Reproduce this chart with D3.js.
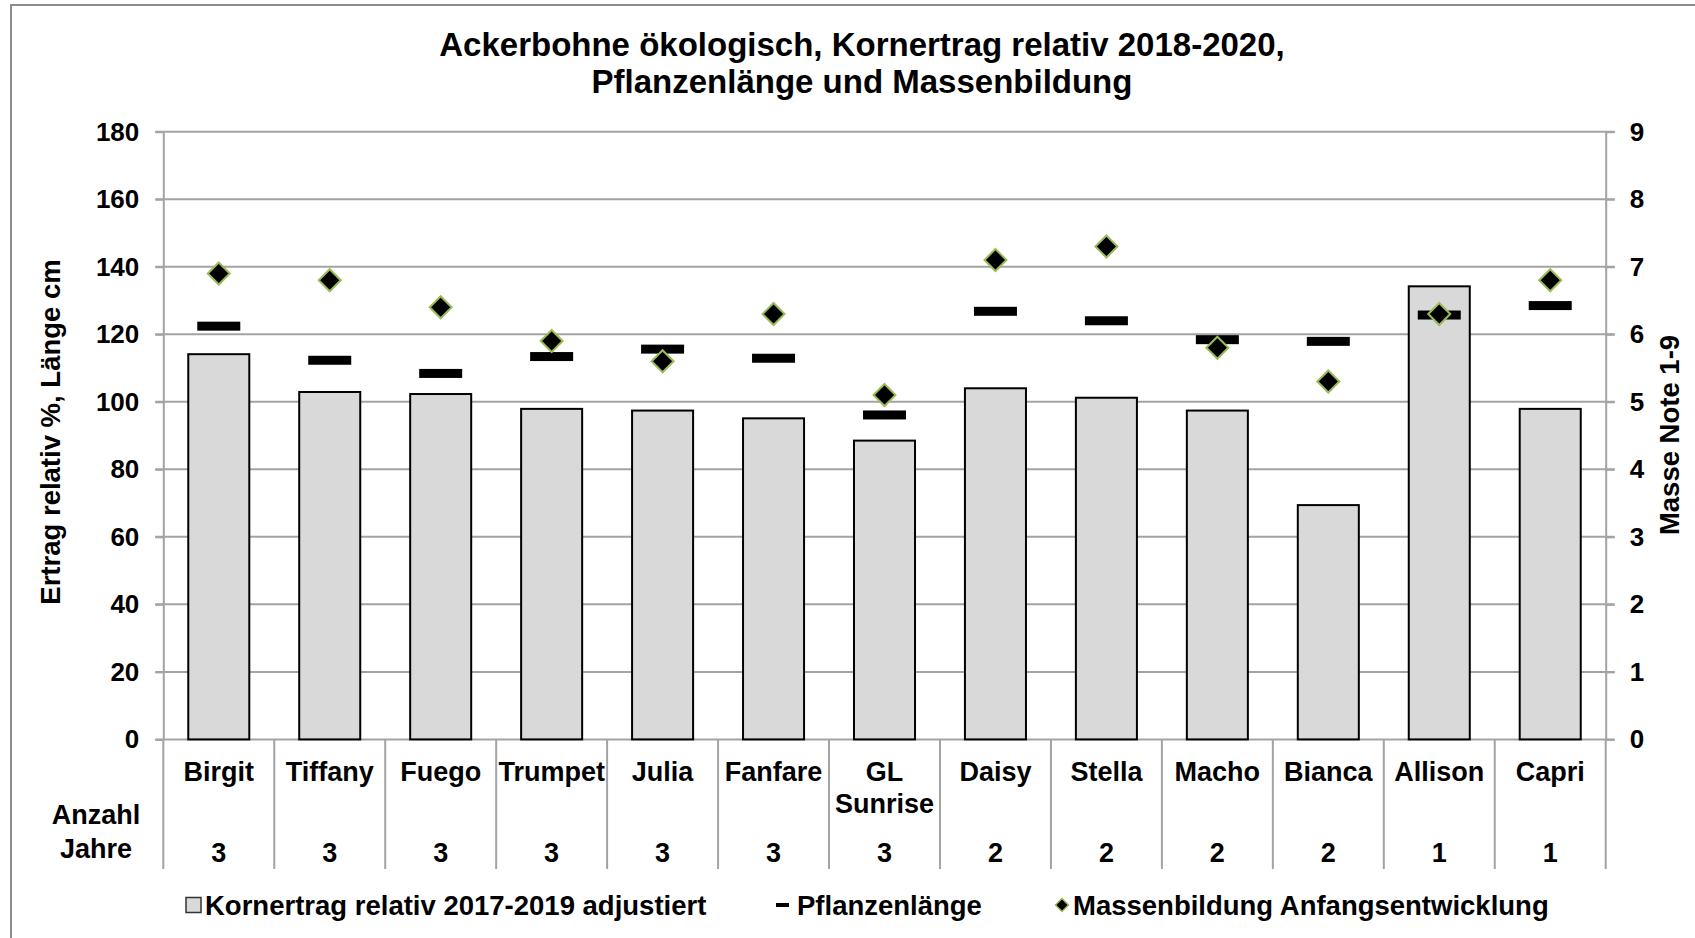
<!DOCTYPE html>
<html>
<head>
<meta charset="utf-8">
<script src="https://cdn.jsdelivr.net/npm/d3@7/dist/d3.min.js"></script>
<style>
  html, body { margin: 0; padding: 0; background: #fff; }
  svg { display: block; font-family: "Liberation Sans", Arial, sans-serif; font-weight: bold; }
</style>
</head>
<body>
<svg id="chart" width="1695" height="938"></svg>
<script>
// ---- data ----
const categories = ["Birgit", "Tiffany", "Fuego", "Trumpet", "Julia", "Fanfare", "GL Sunrise", "Daisy", "Stella", "Macho", "Bianca", "Allison", "Capri"];
const categoryLines = [["Birgit"], ["Tiffany"], ["Fuego"], ["Trumpet"], ["Julia"], ["Fanfare"], ["GL", "Sunrise"], ["Daisy"], ["Stella"], ["Macho"], ["Bianca"], ["Allison"], ["Capri"]];
const anzahlJahre = [3, 3, 3, 3, 3, 3, 3, 2, 2, 2, 2, 1, 1];
const kornertrag = [114.1, 102.9, 102.3, 97.9, 97.4, 95.1, 88.5, 104.0, 101.2, 97.4, 69.4, 134.2, 97.9];
const pflanzenlaenge = [122.4, 112.3, 108.4, 113.4, 115.6, 112.9, 96.1, 126.8, 124.0, 118.4, 117.9, 125.7, 128.5];
const massenbildung = [6.9, 6.8, 6.4, 5.9, 5.6, 6.3, 5.1, 7.1, 7.3, 5.8, 5.3, 6.3, 6.8];
const leftTicks = [0, 20, 40, 60, 80, 100, 120, 140, 160, 180];
const rightTicks = [0, 1, 2, 3, 4, 5, 6, 7, 8, 9];
const titleLines = ["Ackerbohne ökologisch, Kornertrag relativ 2018-2020,", "Pflanzenlänge und Massenbildung"];
const leftAxisTitle = "Ertrag relativ %, Länge cm";
const rightAxisTitle = "Masse Note 1-9";
const tableRowLabel = ["Anzahl", "Jahre"];
const legendLabels = ["Kornertrag relativ 2017-2019 adjustiert", "Pflanzenlänge", "Massenbildung Anfangsentwicklung"];

// ---- layout ----
const svg = d3.select("#chart");
const plotLeft = 163.3, plotRight = 1605.7, plotTop = 131.7, plotBottom = 739.4, tableBottom = 869;
const gridColor = "#a3a3a3";
const barFill = "#d9d9d9";
const diamondStroke = "#9bbb59";

const x = d3.scaleBand().domain(categories).range([plotLeft, plotRight]).padding(0);
const yL = d3.scaleLinear().domain([0, 180]).range([plotBottom, plotTop]);
const yR = d3.scaleLinear().domain([0, 9]).range([plotBottom, plotTop]);
const barW = x.bandwidth() * 0.55;

// outer border
svg.append("rect").attr("x", 11).attr("y", 5).attr("width", 1700).attr("height", 960)
  .attr("fill", "none").attr("stroke", "#8c8c8c").attr("stroke-width", 2);

// title
svg.append("g").selectAll("text").data(titleLines).join("text")
  .attr("x", 862).attr("y", (d, i) => 56 + i * 37)
  .attr("text-anchor", "middle").attr("font-size", 33).attr("fill", "#000")
  .text(d => d);

// gridlines
svg.append("g").selectAll("line").data(leftTicks).join("line")
  .attr("x1", plotLeft - 8).attr("x2", plotRight + 9)
  .attr("y1", d => yL(d)).attr("y2", d => yL(d))
  .attr("stroke", gridColor).attr("stroke-width", 2);

// left axis
const gLeft = svg.append("g").attr("transform", `translate(${plotLeft},0)`)
  .call(d3.axisLeft(yL).tickValues(leftTicks).tickSize(8).tickPadding(16).tickSizeOuter(0));
gLeft.select(".domain").attr("stroke", gridColor).attr("stroke-width", 2);
gLeft.selectAll(".tick line").attr("stroke", gridColor).attr("stroke-width", 2);
gLeft.selectAll(".tick text").attr("font-size", 26).attr("font-family", "Liberation Sans, Arial, sans-serif").attr("font-weight", "bold").attr("fill", "#000");

// right axis
const gRight = svg.append("g").attr("transform", `translate(${plotRight},0)`)
  .call(d3.axisRight(yR).tickValues(rightTicks).tickSize(9).tickPadding(15).tickSizeOuter(0));
gRight.select(".domain").attr("stroke", gridColor).attr("stroke-width", 2);
gRight.selectAll(".tick line").attr("stroke", gridColor).attr("stroke-width", 2);
gRight.selectAll(".tick text").attr("font-size", 26).attr("font-family", "Liberation Sans, Arial, sans-serif").attr("font-weight", "bold").attr("fill", "#000");

// table separators
const seps = categories.map(c => x(c)).concat([plotRight]);
svg.append("g").selectAll("line").data(seps).join("line")
  .attr("x1", d => d).attr("x2", d => d)
  .attr("y1", plotBottom).attr("y2", tableBottom)
  .attr("stroke", gridColor).attr("stroke-width", 2);

// bars
svg.append("g").selectAll("rect").data(categories).join("rect")
  .attr("x", (d) => x(d) + (x.bandwidth() - barW) / 2)
  .attr("y", (d, i) => yL(kornertrag[i]))
  .attr("width", barW)
  .attr("height", (d, i) => yL(0) - yL(kornertrag[i]))
  .attr("fill", barFill).attr("stroke", "#000").attr("stroke-width", 2);

// Pflanzenlänge dashes
svg.append("g").selectAll("rect").data(categories).join("rect")
  .attr("x", d => x(d) + x.bandwidth() / 2 - 21.5)
  .attr("y", (d, i) => yL(pflanzenlaenge[i]) - 4.5)
  .attr("width", 43).attr("height", 9).attr("fill", "#000");

// Massenbildung diamonds
const dia = (r) => `M0,${-r}L${r},0L0,${r}L${-r},0Z`;
svg.append("g").selectAll("path").data(categories).join("path")
  .attr("transform", (d, i) => `translate(${x(d) + x.bandwidth() / 2},${yR(massenbildung[i])})`)
  .attr("d", dia(11))
  .attr("fill", "#000").attr("stroke", diamondStroke).attr("stroke-width", 2);

// category labels
const catG = svg.append("g").selectAll("text").data(categories).join("text")
  .attr("x", d => x(d) + x.bandwidth() / 2)
  .attr("y", 781)
  .attr("text-anchor", "middle").attr("font-size", 27).attr("fill", "#000");
catG.each(function(d, i) {
  const t = d3.select(this);
  categoryLines[i].forEach((line, j) => {
    t.append("tspan").attr("x", x(d) + x.bandwidth() / 2).attr("dy", j === 0 ? 0 : 32).text(line);
  });
});

// Anzahl Jahre values
svg.append("g").selectAll("text").data(categories).join("text")
  .attr("x", d => x(d) + x.bandwidth() / 2)
  .attr("y", 862)
  .attr("text-anchor", "middle").attr("font-size", 27).attr("fill", "#000")
  .text((d, i) => anzahlJahre[i]);

svg.append("g").selectAll("text").data(tableRowLabel).join("text")
  .attr("x", 96).attr("y", (d, i) => 824 + i * 34)
  .attr("text-anchor", "middle").attr("font-size", 27).attr("fill", "#000")
  .text(d => d);

// axis titles
svg.append("text")
  .attr("transform", "translate(50,432) rotate(-90)")
  .attr("text-anchor", "middle").attr("dy", "0.35em")
  .attr("font-size", 27.5).attr("fill", "#000").text(leftAxisTitle);
svg.append("text")
  .attr("transform", "translate(1669,435) rotate(-90)")
  .attr("text-anchor", "middle").attr("dy", "0.35em")
  .attr("font-size", 27.5).attr("fill", "#000").text(rightAxisTitle);

// legend
const lg = svg.append("g");
const legY = 905;
lg.append("rect").attr("x", 186).attr("y", legY - 7.5).attr("width", 15).attr("height", 15)
  .attr("fill", barFill).attr("stroke", "#333").attr("stroke-width", 1.5);
lg.append("text").attr("x", 205).attr("y", legY).attr("dy", "0.35em").attr("font-size", 27.5).attr("fill", "#000").text(legendLabels[0]);
lg.append("rect").attr("x", 776).attr("y", legY - 2).attr("width", 13).attr("height", 4).attr("fill", "#000");
lg.append("text").attr("x", 797).attr("y", legY).attr("dy", "0.35em").attr("font-size", 27.5).attr("fill", "#000").text(legendLabels[1]);
lg.append("path").attr("transform", `translate(1062,${legY})`).attr("d", dia(6.5))
  .attr("fill", "#000").attr("stroke", diamondStroke).attr("stroke-width", 1.5);
lg.append("text").attr("x", 1073).attr("y", legY).attr("dy", "0.35em").attr("font-size", 27.5).attr("fill", "#000").text(legendLabels[2]);
</script>
</body>
</html>
